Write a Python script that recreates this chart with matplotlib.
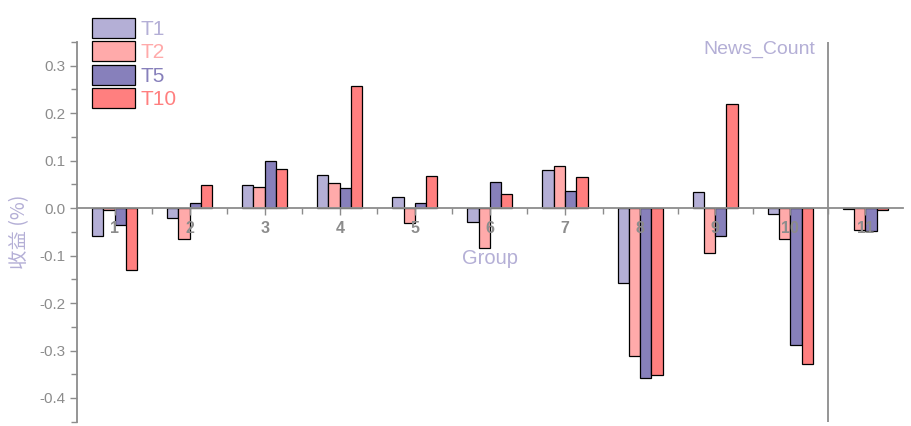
import matplotlib.pyplot as plt
import numpy as np

plt.rcParams['font.family'] = ['Liberation Sans', 'Noto Sans CJK SC', 'DejaVu Sans']

# donnees
groups = [1, 2, 3, 4, 5, 6, 7, 8, 9, 10, 11]
t1 = [-0.058, -0.020, 0.048, 0.069, 0.024, -0.030, 0.081, -0.157, 0.034, -0.013, -0.002]
t2 = [-0.004, -0.065, 0.044, 0.052, -0.032, -0.083, 0.088, -0.312, -0.094, -0.065, -0.047]
t5 = [-0.036, 0.010, 0.099, 0.042, 0.010, 0.055, 0.036, -0.357, -0.058, -0.288, -0.049]
t10 = [-0.131, 0.048, 0.082, 0.257, 0.067, 0.029, 0.066, -0.352, 0.219, -0.328, -0.003]
series = [t1, t2, t5, t10]
labels = ['T1', 'T2', 'T5', 'T10']
colors = ['#b4afd6', '#ffaaaa', '#8780bb', '#ff7f7f']
yticks = [-0.4, -0.3, -0.2, -0.1, 0.0, 0.1, 0.2, 0.3]

grey = '#8c8c8c'
label_col = '#b4afd6'

fig = plt.figure(figsize=(9.12, 4.26), dpi=100)
ax = fig.add_axes([0.0844, 0.0101, 0.9056, 0.8913])

x = np.array(groups)
w = 0.15
handles = []
for i, s in enumerate(series):
    b = ax.bar(x + (i - 1.5) * w, s, w, color=colors[i], edgecolor='black', linewidth=0.9, zorder=1)
    handles.append(b)

ax.set_xlim(0.5, 11.5)
ax.set_ylim(-0.45, 0.35)
ax.set_axisbelow(False)

# axes
for sp in ['top', 'right']:
    ax.spines[sp].set_visible(False)
ax.spines['bottom'].set_position(('data', 0))
ax.spines['left'].set_color(grey)
ax.spines['bottom'].set_color(grey)
ax.spines['left'].set_linewidth(1.3)
ax.spines['bottom'].set_linewidth(1.3)
ax.spines['bottom'].set_zorder(3)

ax.set_xticks(groups)
ax.set_xticks(np.arange(1.5, 11.5, 1), minor=True)
ax.set_xticklabels([str(g) for g in groups], fontweight='bold', color=grey, fontsize=11.5)
ax.tick_params(axis='x', which='major', length=5, width=1, color=grey, pad=4)
ax.tick_params(axis='x', which='minor', length=4, width=1, color=grey)

ax.set_yticks(yticks)
ax.set_yticks(np.arange(-0.45, 0.36, 0.05), minor=True)
ax.set_yticklabels(['%.1f' % v for v in yticks], color=grey, fontsize=11)
ax.tick_params(axis='y', which='major', length=5, width=1, color=grey, pad=3)
ax.tick_params(axis='y', which='minor', length=4, width=1, color=grey)

ax.set_ylabel('收益 (%)', color=label_col, fontsize=14, family=['Noto Sans CJK SC', 'DejaVu Sans'], labelpad=7)
ax.text(0.5, 0.431, 'Group', transform=ax.transAxes, ha='center', va='center', color=label_col, fontsize=14.5)

# separateur
ax.axvline(10.5, color=grey, linewidth=1.3, zorder=1)
ax.text(10.33, 0.335, 'News_Count', ha='right', va='center', color=label_col, fontsize=14)

leg = ax.legend(handles, labels, loc='upper left', bbox_to_anchor=(92 / 912, 1 - 18 / 426),
                bbox_transform=fig.transFigure, frameon=False, fontsize=15,
                handlelength=2.05, handleheight=1.08, labelspacing=0.12, handletextpad=0.3,
                borderpad=0, borderaxespad=0)
for t, c in zip(leg.get_texts(), colors):
    t.set_color(c)

fig.savefig('out.png', dpi=100)
